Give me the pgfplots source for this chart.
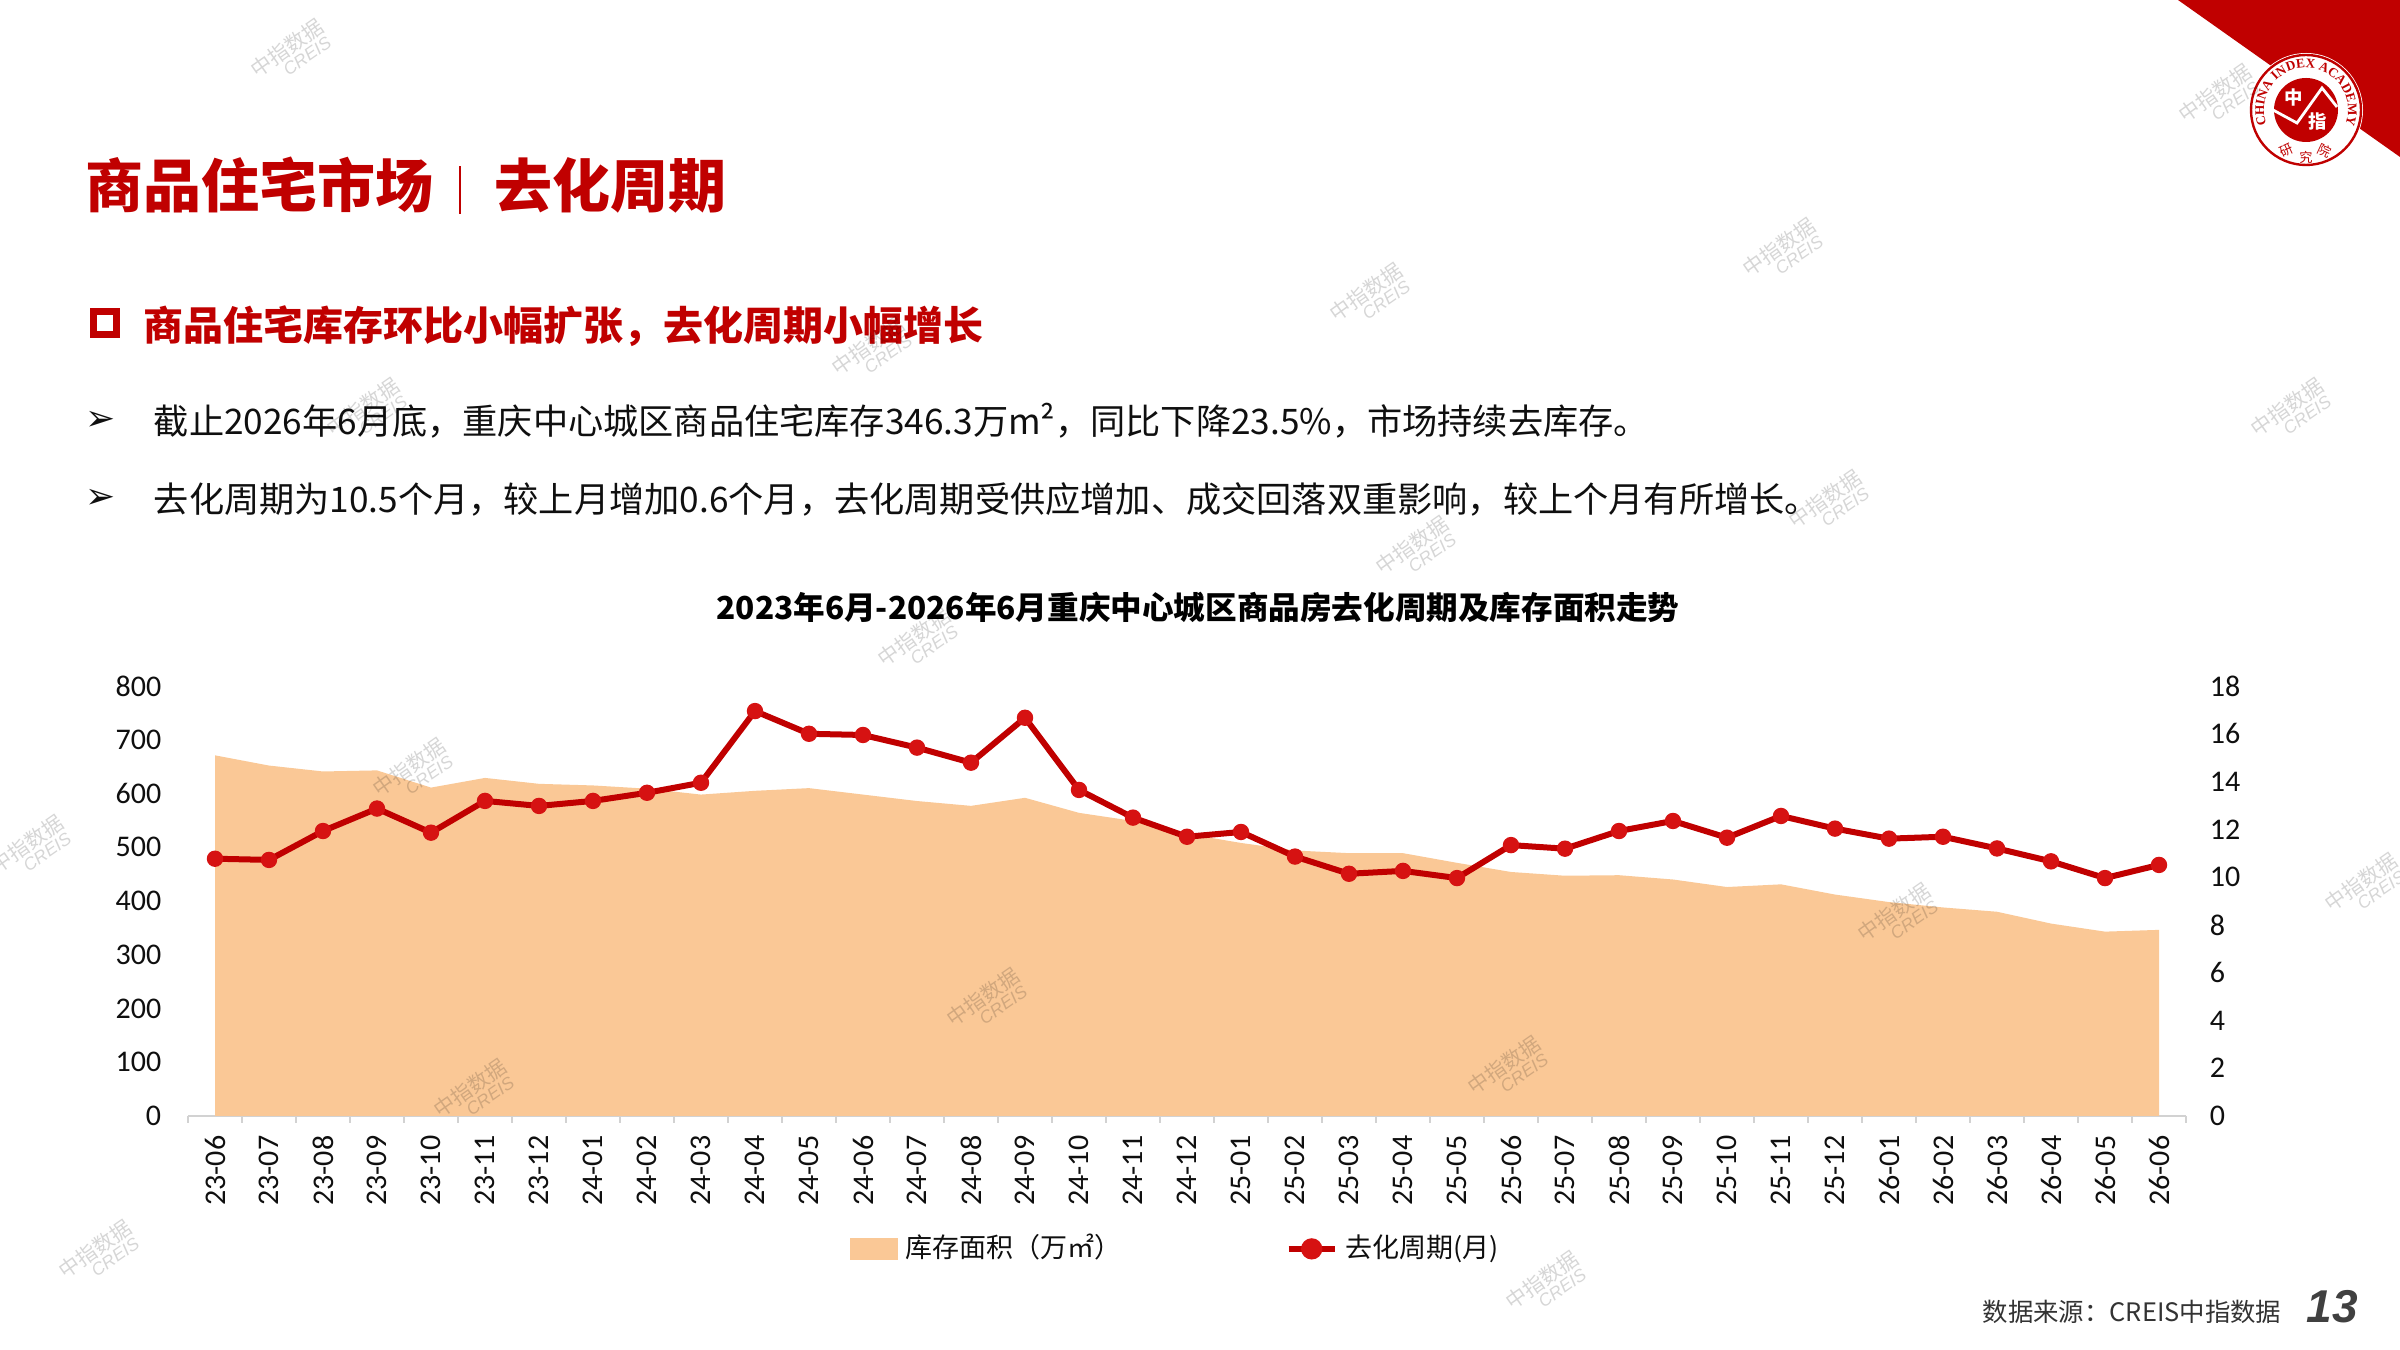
\documentclass[border=0pt]{standalone}
\usepackage{fontspec}
\usepackage{pgfplots}
\pgfplotsset{compat=1.18}
\usetikzlibrary{decorations.text}
\setmainfont{Noto Sans CJK SC}
\newfontfamily\lib{Liberation Sans}
\newfontfamily\carl{Carlito}
\newfontfamily\dejavu{DejaVu Sans}
\newfontfamily\lserif{Liberation Serif}
\definecolor{peach}{RGB}{250,200,150}
\definecolor{dred}{RGB}{192,0,0}
\definecolor{lred}{RGB}{214,18,18}
\definecolor{axisgray}{RGB}{210,210,210}
\definecolor{txt}{RGB}{15,15,15}
\newcommand{\fs}[1]{\fontsize{#1}{#1}\selectfont}

\pgfplotstableread{
x area
0 671
1 652
2 641
3 643
4 611
5 629
6 618
7 615
8 609
9 598
10 605
11 610
12 598
13 586
14 577
15 592
16 564
17 549
18 525
19 508
20 494
21 489
22 489
23 471
24 454
25 447
26 448
27 440
28 426
29 431
30 412
31 398
32 388
33 380
34 358
35 343
36 346.3
}\areatable

\pgfplotstableread{
x period
0 10.77
1 10.72
2 11.93
3 12.87
4 11.86
5 13.19
6 12.98
7 13.19
8 13.53
9 13.95
10 16.95
11 16.00
12 15.95
13 15.42
14 14.79
15 16.67
16 13.65
17 12.49
18 11.69
19 11.89
20 10.86
21 10.14
22 10.26
23 9.96
24 11.34
25 11.19
26 11.93
27 12.35
28 11.65
29 12.56
30 12.03
31 11.61
32 11.69
33 11.20
34 10.66
35 9.96
36 10.51
}\periodtable

\begin{document}
\begin{tikzpicture}[x=0.25pt,y=0.25pt]
\useasboundingbox (0,0) rectangle (2400,1350);
\fill[white] (0,0) rectangle (2400,1350);

% top-right corner decoration
\fill[dred] (2178,1350) -- (2400,1350) -- (2400,1193) -- cycle;
\fill[white] (2306,1240) circle (57);
\draw[dred, line width=0.6pt] (2306,1240) circle (55);
\fill[dred] (2306,1240) circle (32);
\draw[white, line width=0.7pt] (2273,1240) -- (2297,1227) -- (2322,1262) -- (2337,1243);
\node[white, font=\fs{4.6}\bfseries, inner sep=0pt] at (2294,1252) {中};
\node[white, font=\fs{4.6}\bfseries, inner sep=0pt] at (2318,1228) {指};
\path[decorate, decoration={text along path, text color=dred, text align=center,
  text={|\lserif\bfseries\fs{3.3}|CHINA INDEX ACADEMY}}]
  ([shift={(205:42)}]2306,1240) arc[start angle=205, end angle=-25, radius=42];
\node[dred, font=\fs{3.3}, rotate=25, inner sep=0pt] at ([shift={(245:45)}]2306,1240) {研};
\node[dred, font=\fs{3.3}, inner sep=0pt] at ([shift={(270:47)}]2306,1240) {究};
\node[dred, font=\fs{3.3}, rotate=-25, inner sep=0pt] at ([shift={(295:45)}]2306,1240) {院};

% titles
\node[anchor=west, inner sep=0pt, text=dred, font=\fs{14.5}\bfseries] at (85,1165) {商品住宅市场};
\draw[dred, line width=0.35pt] (460,1136) -- (460,1184);
\node[anchor=west, inner sep=0pt, text=dred, font=\fs{14.5}\bfseries] at (494,1165) {去化周期};

\draw[dred, line width=1.7pt] (93.5,1015.5) rectangle (116.5,1038.5);
\node[anchor=west, inner sep=0pt, text=dred, font=\fs{10}\bfseries] at (143,1024) {商品住宅库存环比小幅扩张，去化周期小幅增长};

\node[inner sep=0pt, font=\dejavu\fs{9}, text=txt] at (101,929) {➢};
\node[anchor=west, inner sep=0pt, font=\fs{8.8}, text=txt] at (153,929) {截止2026年6月底，重庆中心城区商品住宅库存346.3万m²，同比下降23.5\%，市场持续去库存。};
\node[inner sep=0pt, font=\dejavu\fs{9}, text=txt] at (101,851) {➢};
\node[anchor=west, inner sep=0pt, font=\fs{8.8}, text=txt] at (153,851) {去化周期为10.5个月，较上月增加0.6个月，去化周期受供应增加、成交回落双重影响，较上个月有所增长。};

\node[inner sep=0pt, font=\fs{7.9}\bfseries, text=black] at (1198,742) {2023年6月-2026年6月重庆中心城区商品房去化周期及库存面积走势};

% left axis: inventory area
\begin{axis}[
  at={(47pt,58.5pt)}, anchor=south west, scale only axis,
  width=499.5pt, height=107.5pt,
  xmin=-0.5, xmax=36.5, ymin=0, ymax=800,
  axis x line*=bottom, axis y line*=left,
  x axis line style={-, draw=axisgray, line width=0.5pt},
  y axis line style={draw=none},
  xtick={0,...,36},
  xticklabels={23-06,23-07,23-08,23-09,23-10,23-11,23-12,24-01,24-02,24-03,24-04,24-05,24-06,24-07,24-08,24-09,24-10,24-11,24-12,25-01,25-02,25-03,25-04,25-05,25-06,25-07,25-08,25-09,25-10,25-11,25-12,26-01,26-02,26-03,26-04,26-05,26-06},
  major x tick style={draw=none},
  major tick length=0pt,
  minor xtick={-0.5,0.5,...,36.5},
  minor tick length=1.75pt, tick align=outside,
  minor x tick style={draw=axisgray, line width=0.5pt},
  ytick={0,100,...,800}, ytick style={draw=none},
  tick label style={font=\carl\fs{7.5}, text=txt},
  xticklabel style={rotate=90, anchor=east, inner sep=0pt},
  xticklabel shift=4.75pt,
  yticklabel style={inner sep=0pt, anchor=east},
  yticklabel shift=6.5pt,
  /pgf/number format/assume math mode=true,
]
\addplot[fill=peach, draw=none] table[x=x, y=area] {\areatable} \closedcycle;
\end{axis}

% right axis: de-stocking period
\begin{axis}[
  at={(47pt,58.5pt)}, anchor=south west, scale only axis,
  width=499.5pt, height=107.5pt,
  xmin=-0.5, xmax=36.5, ymin=0, ymax=18,
  axis x line=none, axis y line*=right,
  y axis line style={draw=none},
  major tick length=0pt,
  ytick={0,2,...,18}, ytick style={draw=none},
  tick label style={font=\carl\fs{7.5}, text=txt},
  yticklabel style={inner sep=0pt, anchor=west},
  yticklabel shift=5.75pt,
  /pgf/number format/assume math mode=true,
  legend style={at={(0.331,-0.309)}, anchor=west, draw=none, fill=none,
    inner sep=0pt, font=\fs{6.75}, text=txt, legend columns=2,
    /tikz/every even column/.append style={column sep=39pt}},
]
\addlegendimage{legend image code/.code={\fill[peach] (0pt,-2.5pt) rectangle (11.5pt,2.5pt);}}
\addlegendentry{库存面积（万㎡）}
\addplot[dred, line width=1.5pt, mark=*, mark size=1.9pt,
  mark options={fill=lred, draw=lred, line width=0.3pt},
  legend image code/.code={\draw[dred, line width=1.5pt] (0pt,0pt) -- (11.5pt,0pt); \fill[lred] (5.75pt,0pt) circle (1.9pt);}]
  table[x=x, y=period] {\periodtable};
\addlegendentry{去化周期(月)}
\end{axis}

% footer
\node[anchor=east, inner sep=0pt, font=\fs{6.35}, text=black!80] at (2282,38) {数据来源：CREIS中指数据};
\node[anchor=west, inner sep=0pt, font=\lib\bfseries\itshape\fs{11.5}, text=black!75] at (2306,43) {13};

% watermarks
\foreach \wx/\wy in {291/54,1370/298,1783/253,872/352,367/413,1829/505,1416/551,918/643,413/773,31/850,2291/413,1898/918,987/1003,1508/1071,474/1094,2365/888,99/1255,1546/1286,2219/99}{
  \node[rotate=35, opacity=0.16, text=black, font=\fs{5.2}, align=center, inner sep=0pt] at (\wx,{1350-\wy}) {中指数据\\[-1pt]{\lib\itshape\fs{4.4}\hspace*{6pt}CREIS}};
}
\end{tikzpicture}
\end{document}
